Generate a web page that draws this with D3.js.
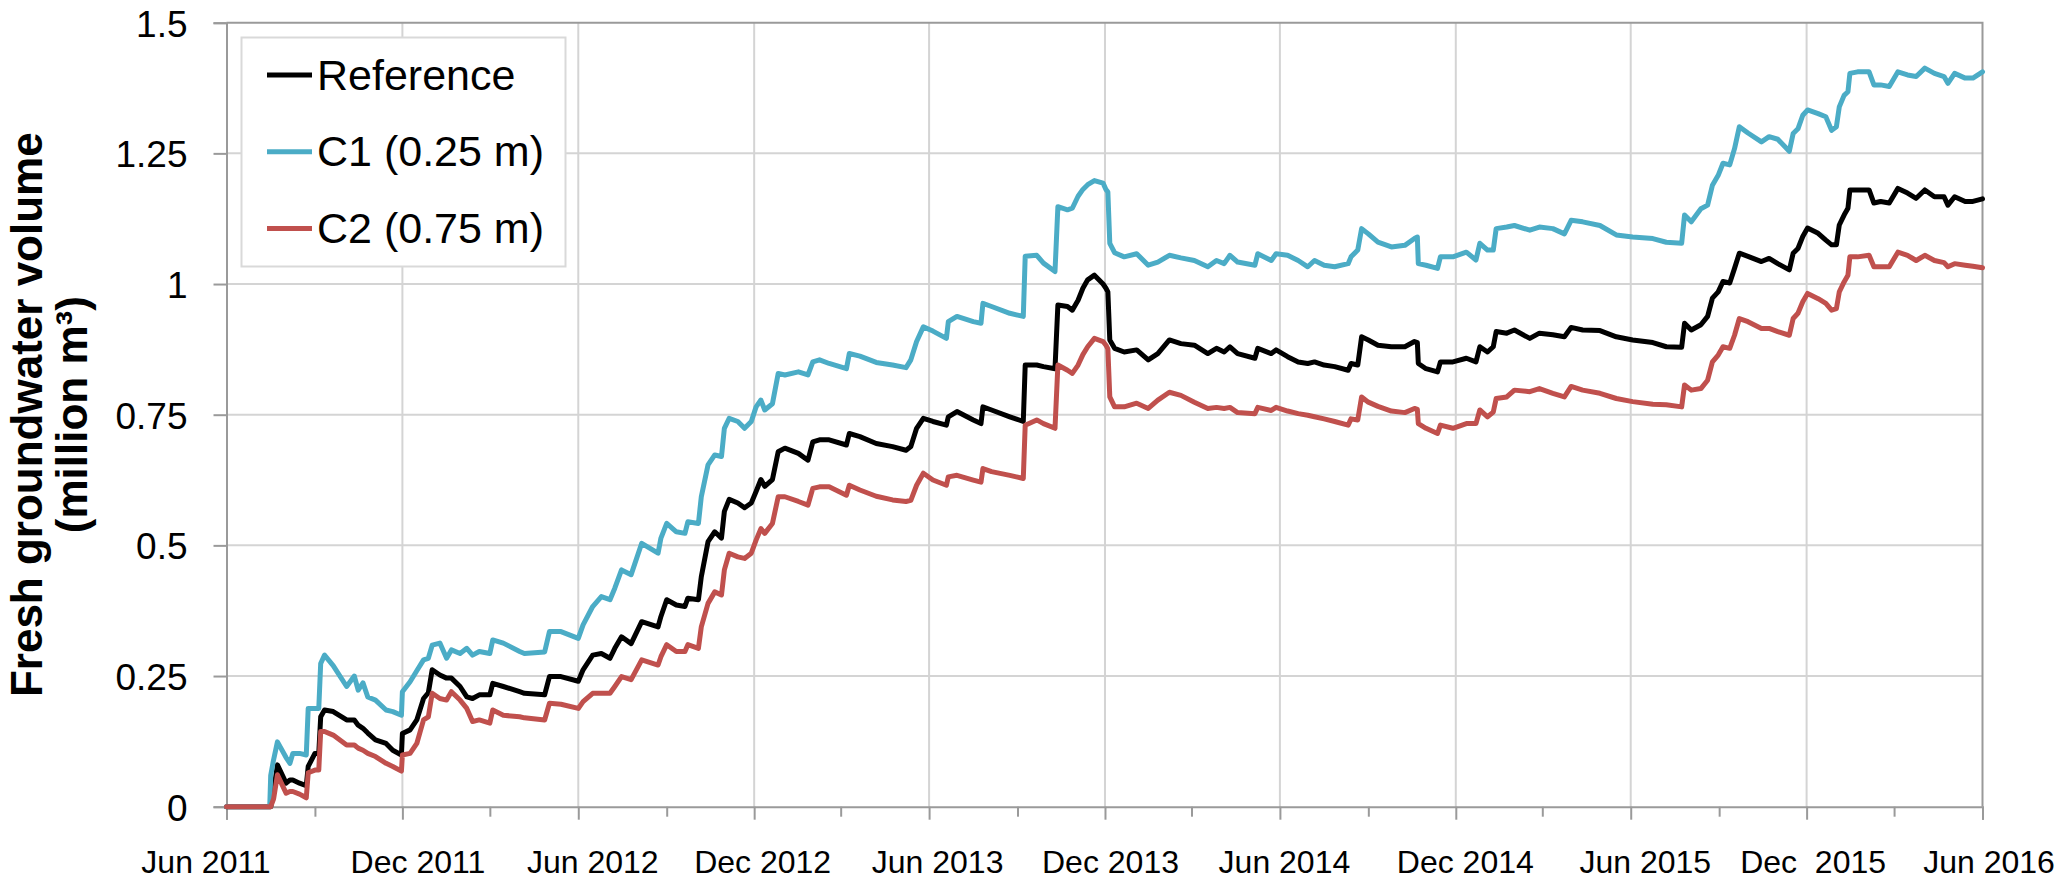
<!DOCTYPE html>
<html>
<head>
<meta charset="utf-8">
<script src="https://cdn.jsdelivr.net/npm/d3@7"></script>
<style>
  html, body { margin: 0; padding: 0; background: #ffffff; }
  svg { display: block; }
</style>
</head>
<body>
<svg id="chart" width="2067" height="881"></svg>
<script>
// ---------------- DATA ----------------
const dates = [
  "2011-06-01","2011-07-16","2011-07-17","2011-07-20","2011-07-24","2011-08-02","2011-08-06","2011-08-09",
  "2011-08-16","2011-08-23","2011-08-25","2011-09-01","2011-09-05","2011-09-07","2011-09-11","2011-09-20",
  "2011-10-04","2011-10-12","2011-10-16","2011-10-21","2011-10-26","2011-11-03","2011-11-14","2011-11-21",
  "2011-11-30","2011-12-01","2011-12-09","2011-12-16","2011-12-23","2011-12-28","2012-01-01","2012-01-09",
  "2012-01-16","2012-01-21","2012-01-30","2012-02-06","2012-02-12","2012-02-19","2012-03-01","2012-03-04",
  "2012-03-15","2012-04-01",
  "2012-04-06","2012-04-27","2012-05-02","2012-05-14","2012-06-01","2012-06-06","2012-06-16","2012-06-25",
  "2012-07-04","2012-07-09","2012-07-16","2012-07-26","2012-08-06","2012-08-23","2012-08-26","2012-09-01",
  "2012-09-11","2012-09-20","2012-09-23","2012-10-04","2012-10-07","2012-10-14","2012-10-21","2012-10-28",
  "2012-10-31","2012-11-05","2012-11-14","2012-11-21","2012-11-28","2012-12-03","2012-12-08","2012-12-12",
  "2012-12-20","2012-12-26","2013-01-02","2013-01-16","2013-01-26","2013-01-31",
  "2013-02-07","2013-02-17","2013-03-07","2013-03-10","2013-03-21","2013-04-07","2013-04-24","2013-05-08",
  "2013-05-13","2013-05-19","2013-05-26","2013-06-05","2013-06-19","2013-06-21","2013-06-30","2013-07-17",
  "2013-07-25","2013-07-27","2013-08-05","2013-08-24","2013-09-07","2013-09-09","2013-09-21","2013-09-28",
  "2013-10-10","2013-10-13","2013-10-23","2013-10-28","2013-11-03","2013-11-08","2013-11-13","2013-11-20",
  "2013-11-29","2013-12-02",
  "2013-12-04","2013-12-06","2013-12-11","2013-12-21","2014-01-03","2014-01-15","2014-01-25","2014-02-06",
  "2014-02-18","2014-03-04","2014-03-18","2014-03-27","2014-04-04","2014-04-10","2014-04-18","2014-05-06",
  "2014-05-09","2014-05-23","2014-05-28","2014-06-09","2014-06-20","2014-06-30","2014-07-07","2014-07-17",
  "2014-07-28","2014-08-11","2014-08-14","2014-08-21","2014-08-25","2014-09-01","2014-09-11","2014-09-25",
  "2014-10-09",
  "2014-10-19","2014-10-22","2014-10-23","2014-10-31","2014-11-12","2014-11-15","2014-11-28","2014-12-12",
  "2014-12-22","2014-12-26","2015-01-03","2015-01-09","2015-01-12","2015-01-23","2015-01-31","2015-02-16",
  "2015-02-26","2015-03-12","2015-03-24","2015-03-31","2015-04-12","2015-04-30","2015-05-17","2015-06-03",
  "2015-06-24","2015-07-08","2015-07-24","2015-07-27","2015-08-03",
  "2015-08-13","2015-08-20","2015-08-25","2015-08-31","2015-09-05","2015-09-12","2015-09-17","2015-09-22",
  "2015-10-01","2015-10-15","2015-10-23","2015-11-01","2015-11-13","2015-11-17","2015-11-22","2015-11-27",
  "2015-12-02","2015-12-13","2015-12-21","2015-12-27","2016-01-01","2016-01-04","2016-01-09","2016-01-13",
  "2016-01-15","2016-01-23","2016-02-04","2016-02-09","2016-02-16","2016-02-25","2016-03-05","2016-03-15",
  "2016-03-24","2016-04-02","2016-04-12","2016-04-22","2016-04-26","2016-05-03","2016-05-14","2016-05-22",
  "2016-06-01"
];

const referenceValues = [
  0,0,0,0.03,0.080,0.045,0.051,0.051,
  0.045,0.040,0.077,0.102,0.102,0.172,0.185,0.182,
  0.166,0.166,0.156,0.150,0.141,0.128,0.121,0.108,
  0.099,0.140,0.147,0.166,0.207,0.218,0.262,0.252,
  0.246,0.246,0.230,0.210,0.207,0.214,0.214,0.236,
  0.230,0.220,
  0.217,0.214,0.249,0.249,0.240,0.262,0.290,0.293,
  0.284,0.303,0.325,0.312,0.354,0.344,0.364,0.396,
  0.386,0.383,0.399,0.396,0.440,0.507,0.526,0.514,
  0.565,0.588,0.581,0.572,0.581,0.603,0.626,0.613,
  0.626,0.679,0.686,0.676,0.663,0.698,
  0.702,0.702,0.692,0.714,0.708,0.695,0.689,0.682,
  0.689,0.724,0.743,0.737,0.730,0.746,0.756,0.740,
  0.733,0.765,0.759,0.746,0.737,0.845,0.845,0.842,
  0.838,0.960,0.957,0.950,0.969,0.992,1.008,1.017,
  1.000,0.992,
  0.985,0.893,0.877,0.870,0.874,0.855,0.867,0.893,
  0.886,0.883,0.867,0.877,0.870,0.880,0.867,0.858,
  0.877,0.867,0.874,0.861,0.851,0.848,0.851,0.845,
  0.842,0.835,0.848,0.845,0.899,0.893,0.883,0.880,
  0.880,
  0.890,0.888,0.848,0.838,0.832,0.851,0.851,0.858,
  0.851,0.880,0.870,0.880,0.909,0.906,0.912,0.896,
  0.906,0.903,0.899,0.917,0.912,0.911,0.899,0.893,
  0.888,0.880,0.879,0.925,0.912,
  0.922,0.938,0.973,0.985,1.005,1.002,1.030,1.059,
  1.053,1.043,1.049,1.039,1.027,1.059,1.068,1.091,
  1.107,1.097,1.084,1.075,1.075,1.113,1.132,1.145,
  1.180,1.180,1.180,1.155,1.158,1.155,1.183,1.174,
  1.164,1.180,1.167,1.167,1.151,1.167,1.158,1.158,
  1.163
];

const c1Values = [
  0,0,0.06,0.09,0.124,0.094,0.083,0.102,
  0.102,0.099,0.188,0.188,0.188,0.274,0.290,0.270,
  0.230,0.250,0.223,0.237,0.210,0.204,0.185,0.182,
  0.175,0.220,0.239,0.260,0.281,0.284,0.309,0.313,
  0.284,0.300,0.293,0.303,0.290,0.297,0.293,0.319,
  0.313,0.297,
  0.293,0.296,0.335,0.335,0.322,0.348,0.383,0.402,
  0.396,0.418,0.453,0.444,0.504,0.485,0.514,0.542,
  0.526,0.523,0.545,0.542,0.593,0.654,0.673,0.670,
  0.724,0.743,0.737,0.724,0.737,0.765,0.778,0.759,
  0.771,0.829,0.826,0.832,0.826,0.851,
  0.855,0.848,0.838,0.867,0.862,0.850,0.845,0.840,
  0.855,0.890,0.918,0.910,0.896,0.928,0.938,0.928,
  0.925,0.963,0.957,0.944,0.938,1.053,1.055,1.040,
  1.024,1.148,1.142,1.145,1.168,1.181,1.190,1.198,
  1.193,1.181,
  1.176,1.078,1.060,1.052,1.058,1.036,1.042,1.055,
  1.050,1.045,1.033,1.045,1.039,1.055,1.042,1.036,
  1.058,1.045,1.058,1.055,1.045,1.033,1.045,1.036,
  1.033,1.039,1.052,1.065,1.106,1.096,1.080,1.071,
  1.074,
  1.087,1.090,1.039,1.036,1.030,1.052,1.052,1.061,
  1.046,1.078,1.065,1.065,1.106,1.109,1.112,1.103,
  1.109,1.106,1.096,1.122,1.119,1.112,1.094,1.090,
  1.087,1.080,1.078,1.132,1.119,
  1.144,1.151,1.189,1.208,1.231,1.228,1.259,1.301,
  1.289,1.272,1.282,1.277,1.254,1.288,1.297,1.323,
  1.333,1.326,1.320,1.294,1.301,1.339,1.361,1.368,
  1.403,1.406,1.406,1.381,1.381,1.378,1.406,1.400,
  1.397,1.413,1.403,1.397,1.384,1.403,1.394,1.394,
  1.406
];

const c2Values = [
  0,0,0,0.015,0.061,0.026,0.029,0.029,
  0.024,0.017,0.065,0.070,0.070,0.144,0.144,0.137,
  0.118,0.118,0.112,0.108,0.102,0.096,0.083,0.077,
  0.068,0.099,0.102,0.121,0.166,0.172,0.217,0.207,
  0.204,0.220,0.204,0.188,0.163,0.166,0.160,0.185,
  0.175,0.172,
  0.170,0.166,0.198,0.196,0.188,0.201,0.217,0.217,
  0.217,0.230,0.249,0.243,0.281,0.271,0.287,0.310,
  0.297,0.297,0.310,0.303,0.344,0.389,0.411,0.405,
  0.453,0.485,0.478,0.475,0.485,0.510,0.532,0.523,
  0.542,0.593,0.593,0.584,0.577,0.609,
  0.612,0.612,0.596,0.615,0.606,0.594,0.587,0.584,
  0.586,0.615,0.638,0.625,0.615,0.631,0.634,0.625,
  0.621,0.647,0.641,0.634,0.628,0.730,0.740,0.733,
  0.724,0.845,0.835,0.829,0.845,0.865,0.880,0.896,
  0.890,0.883,
  0.876,0.784,0.765,0.765,0.772,0.762,0.778,0.793,
  0.787,0.774,0.762,0.764,0.762,0.764,0.754,0.752,
  0.764,0.758,0.764,0.757,0.752,0.749,0.746,0.742,
  0.737,0.730,0.742,0.740,0.784,0.774,0.766,0.757,
  0.754,
  0.762,0.760,0.733,0.724,0.714,0.730,0.724,0.733,
  0.733,0.759,0.746,0.755,0.781,0.784,0.797,0.794,
  0.800,0.791,0.784,0.804,0.797,0.791,0.781,0.775,
  0.770,0.769,0.765,0.807,0.797,
  0.800,0.816,0.851,0.864,0.880,0.877,0.902,0.934,
  0.928,0.915,0.915,0.909,0.902,0.934,0.944,0.966,
  0.982,0.972,0.963,0.950,0.953,0.985,1.004,1.017,
  1.052,1.052,1.055,1.033,1.033,1.033,1.061,1.055,
  1.045,1.055,1.045,1.041,1.033,1.039,1.036,1.034,
  1.031
];

const seriesNames = ["Reference", "C1 (0.25 m)", "C2 (0.75 m)"];
const seriesColors = ["#000000", "#4bacc6", "#c0504d"];

const xMajorTicks = ["2011-06-01","2011-12-01","2012-06-01","2012-12-01","2013-06-01","2013-12-01",
                     "2014-06-01","2014-12-01","2015-06-01","2015-12-01","2016-06-01"];
const xMinorTicks = ["2011-09-01","2012-03-01","2012-09-01","2013-03-01","2013-09-01",
                     "2014-03-01","2014-09-01","2015-03-01","2015-09-01","2016-03-01"];
const xTickLabels = ["Jun 2011","Dec 2011","Jun 2012","Dec 2012","Jun 2013","Dec 2013",
                     "Jun 2014","Dec 2014","Jun 2015","Dec  2015","Jun 2016"];
const yTicks = [0, 0.25, 0.5, 0.75, 1, 1.25, 1.5];
const yTickLabels = ["0", "0.25", "0.5", "0.75", "1", "1.25", "1.5"];
const yTitleLines = ["Fresh groundwater volume", "(million m\u00B3)"];

// ---------------- LAYOUT / STYLE ----------------
const plot = { left: 226.5, right: 1982.5, top: 22.7, bottom: 806.7 };
const labelNudge = [-21, 15, 14, 8, 8, 5, 4, 9, 14, 6, 6];
const font = "'Liberation Sans', Arial, Helvetica, sans-serif";
const axisColor = "#9a9a9a";
const gridColor = "#d4d4d4";

const parse = d3.utcParse("%Y-%m-%d");
const svg = d3.select("#chart");

const x = d3.scaleUtc()
  .domain([parse(xMajorTicks[0]), parse(xMajorTicks[xMajorTicks.length - 1])])
  .range([plot.left, plot.right]);
const y = d3.scaleLinear().domain([0, 1.5]).range([plot.bottom, plot.top]);

svg.append("rect").attr("width", 2067).attr("height", 881).attr("fill", "#ffffff");

const grid = svg.append("g");
grid.selectAll("line.h").data(yTicks.slice(1, -1)).join("line")
  .attr("x1", plot.left).attr("x2", plot.right)
  .attr("y1", d => y(d)).attr("y2", d => y(d))
  .attr("stroke", gridColor).attr("stroke-width", 2);
grid.selectAll("line.v").data(xMajorTicks.slice(1, -1)).join("line")
  .attr("x1", d => x(parse(d))).attr("x2", d => x(parse(d)))
  .attr("y1", plot.top).attr("y2", plot.bottom)
  .attr("stroke", gridColor).attr("stroke-width", 2);

svg.append("path")
  .attr("d", `M${plot.left},${plot.top}H${plot.right}V${plot.bottom}`)
  .attr("fill", "none").attr("stroke", axisColor).attr("stroke-width", 2);

const yAxis = d3.axisLeft(y).tickValues(yTicks).tickSize(13)
  .tickFormat(d => yTickLabels[yTicks.indexOf(d)]);
const gy = svg.append("g").attr("transform", `translate(${plot.left},0)`).call(yAxis);
gy.select(".domain").attr("stroke", axisColor).attr("stroke-width", 2);
gy.selectAll(".tick line").attr("stroke", axisColor).attr("stroke-width", 2);
gy.selectAll(".tick text").attr("font-family", font).attr("font-size", 37).attr("fill", "#000")
  .attr("x", -39).attr("dy", "0.36em");

const xMinor = d3.axisBottom(x).tickValues(xMinorTicks.map(parse)).tickSize(10).tickFormat("");
const gxm = svg.append("g").attr("transform", `translate(0,${plot.bottom})`).call(xMinor);
gxm.select(".domain").remove();
gxm.selectAll(".tick line").attr("stroke", axisColor).attr("stroke-width", 2);

const xAxis = d3.axisBottom(x).tickValues(xMajorTicks.map(parse)).tickSize(13)
  .tickFormat((d, i) => xTickLabels[i]);
const gx = svg.append("g").attr("transform", `translate(0,${plot.bottom})`).call(xAxis);
gx.select(".domain").attr("stroke", axisColor).attr("stroke-width", 2);
gx.selectAll(".tick line").attr("stroke", axisColor).attr("stroke-width", 2);
gx.selectAll(".tick text").attr("font-family", font).attr("font-size", 32).attr("fill", "#000")
  .attr("y", 66).attr("dy", 0).attr("x", (d, i) => labelNudge[i])
  .style("white-space", "pre");

yTitleLines.forEach((t, i) => {
  svg.append("text")
    .attr("transform", `translate(${i === 0 ? 42 : 87},${(plot.top + plot.bottom) / 2}) rotate(-90)`)
    .attr("text-anchor", "middle")
    .attr("font-family", font).attr("font-size", 44).attr("font-weight", "bold")
    .attr("fill", "#000")
    .text(t);
});

const seriesValues = [referenceValues, c1Values, c2Values];
const n = Math.min(dates.length, referenceValues.length, c1Values.length, c2Values.length);
const parsedDates = dates.slice(0, n).map(parse);
const line = d3.line().x(d => x(d[0])).y(d => y(d[1]));
const gLines = svg.append("g");
seriesValues.forEach((vals, k) => {
  const pts = parsedDates.map((d, i) => [d, vals[i]]);
  gLines.append("path").datum(pts)
    .attr("d", line)
    .attr("fill", "none")
    .attr("stroke", seriesColors[k])
    .attr("stroke-width", 5)
    .attr("stroke-linejoin", "round")
    .attr("stroke-linecap", "round");
});

const lg = svg.append("g");
lg.append("rect").attr("x", 241.5).attr("y", 37.5).attr("width", 324).attr("height", 229)
  .attr("fill", "#ffffff").attr("stroke", "#d9d9d9").attr("stroke-width", 2);
seriesNames.forEach((name, k) => {
  const cy = 75 + k * 76.7;
  lg.append("line").attr("x1", 267).attr("x2", 312).attr("y1", cy).attr("y2", cy)
    .attr("stroke", seriesColors[k]).attr("stroke-width", 5);
  lg.append("text").attr("x", 317).attr("y", cy + 14.5)
    .attr("font-family", font).attr("font-size", 43).attr("fill", "#000")
    .text(name);
});
</script>
</body>
</html>
